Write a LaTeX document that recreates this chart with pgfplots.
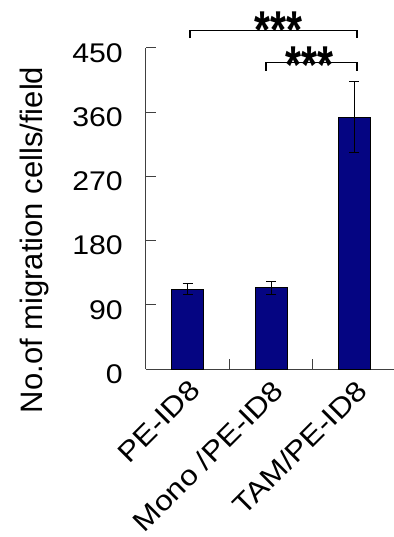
\documentclass[border=0pt]{standalone}
\usepackage{fontspec}
\setmainfont{Liberation Sans}
\usepackage{pgfplots}
\pgfplotsset{compat=1.18}
\usetikzlibrary{calc}
\definecolor{barblue}{RGB}{5,5,130}
\begin{document}
\begin{tikzpicture}
\begin{axis}[
  scale only axis, width=250pt, height=321pt,
  xmin=-0.5, xmax=2.5, ymin=0, ymax=450,
  axis x line*=bottom, axis y line*=left,
  axis line style={black!75, line width=1pt, -},
  tick align=inside,
  ytick={0,90,180,270,360,450},
  major tick length=10pt,
  ytick style={black!75, line width=1pt},
  xtick={0,1,2},
  xticklabels={PE-ID8, Mono /PE-ID8, TAM/PE-ID8},
  xtick style={draw=none},
  minor xtick={0.5,1.5},
  minor tick length=10pt,
  minor x tick style={draw=black!75, line width=1pt},
  x tick label style={yshift=-9pt, xshift=0pt, rotate=45, xscale=1.13, anchor=north east, font=\fontsize{28}{28}\selectfont, inner sep=0pt},
  y tick label style={xshift=-23pt, yshift=-5pt, font=\fontsize{27}{27}\selectfont, xscale=1.12, inner sep=0pt, anchor=east},
  /pgf/number format/assume math mode=true,
  ylabel={No.of migration cells/field},
  ylabel style={font=\fontsize{31}{31}\selectfont, at={(axis description cs:0,0.402)}, yshift=103pt, anchor=base, inner sep=0pt},
  clip=false,
]
\addplot[ybar, bar width=32pt, fill=barblue, draw=black, line width=0.6pt,
  error bars/.cd, y dir=both, y explicit,
  error mark options={rotate=90, mark size=5pt, line width=0.8pt, black},
  error bar style={line width=0.8pt, black}]
  coordinates {(0,112) +- (0,8) (1,114) +- (0,9) (2,353) +- (0,50)};
\coordinate (O) at (axis cs:-0.5,0);
\draw[line width=1.2pt] (axis cs:0.028,464) -- (axis cs:0.028,474) -- (axis cs:2.032,474) -- (axis cs:2.032,464);
\draw[line width=1.2pt] (axis cs:0.94,418) -- (axis cs:0.94,430) -- (axis cs:2.032,430) -- (axis cs:2.032,418);
\node[font=\fontsize{41}{41}\bfseries\selectfont, yscale=1.3, anchor=north, inner sep=0pt] at (axis cs:1.09,501) {***};
\node[font=\fontsize{41}{41}\bfseries\selectfont, yscale=1.3, anchor=north, inner sep=0pt] at (axis cs:1.462,452) {***};
\end{axis}
\pgfresetboundingbox
\path[use as bounding box] ($(O)+(-146pt,-168pt)$) rectangle ($(O)+(247pt,369pt)$);
\end{tikzpicture}
\end{document}
